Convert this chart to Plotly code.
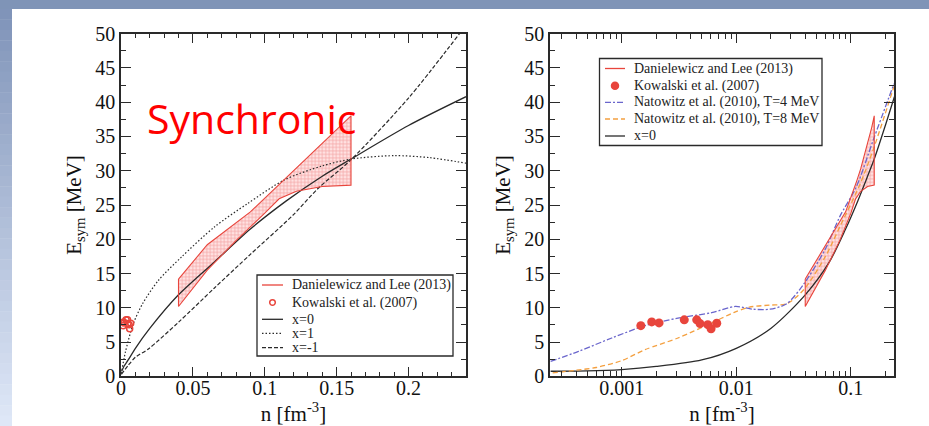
import math
import plotly.graph_objects as go

# ---- Danielewicz & Lee (2013) constraint band: upper and lower edges ----
band_n_upper = [0.04, 0.06, 0.09, 0.113, 0.122, 0.152, 0.16]
band_e_upper = [14.2, 19.2, 24.0, 28.6, 30.3, 36.3, 38.0]
band_n_lower = [0.04, 0.06, 0.08, 0.10, 0.11, 0.122, 0.14, 0.16]
band_e_lower = [10.2, 15.5, 19.8, 23.8, 25.9, 27.0, 27.7, 27.9]

# ---- Kowalski et al. (2007) data points ----
kow_n = [0.00147, 0.00183, 0.00212, 0.00352, 0.00452, 0.00483, 0.00564, 0.00603, 0.00676]
kow_e = [7.4, 7.95, 7.8, 8.25, 8.25, 7.7, 7.55, 6.95, 7.75]

# ---- Esym(n) parametrisations, x = 0, 1, -1 ----
x0_n = [0.00024, 0.0005, 0.001, 0.002, 0.005, 0.01, 0.02, 0.04, 0.065, 0.09, 0.115, 0.14, 0.16, 0.2, 0.24]
x0_e = [0.75, 0.8, 1.0, 1.45, 2.4, 4.1, 7.0, 11.9, 16.7, 21.5, 25.6, 29.2, 31.7, 36.6, 40.8]
x1_n = [0.00024, 0.003, 0.0086, 0.015, 0.026, 0.042, 0.065, 0.088, 0.114, 0.14, 0.16, 0.19, 0.215, 0.24]
x1_e = [0.4, 3.5, 7.7, 10.6, 14.0, 17.4, 21.8, 25.2, 28.7, 30.7, 31.7, 32.2, 31.9, 31.1]
xm1_n = [0.00024, 0.005, 0.01, 0.019, 0.04, 0.065, 0.09, 0.12, 0.137, 0.16, 0.2, 0.2355]
xm1_e = [0.3, 1.6, 2.8, 4.0, 7.9, 12.9, 17.8, 23.6, 27.4, 31.6, 40.6, 50.0]

# ---- Natowitz et al. (2010) ----
nat4_n = [0.00024, 0.00042, 0.00082, 0.0016, 0.0031, 0.0061, 0.0098, 0.014, 0.0197, 0.0276, 0.0386, 0.06, 0.08, 0.112, 0.157, 0.238]
nat4_e = [2.2, 3.65, 5.6, 7.4, 8.5, 9.3, 10.2, 9.8, 9.8, 10.6, 13.4, 18.6, 23.3, 27.7, 34.5, 42.7]
nat8_n = [0.00025, 0.0004, 0.0006, 0.001, 0.0016, 0.0031, 0.0061, 0.0095, 0.013, 0.0197, 0.0276, 0.0386, 0.06, 0.08, 0.12, 0.157, 0.238]
nat8_e = [0.5, 0.9, 1.3, 2.3, 3.9, 5.6, 7.8, 9.3, 10.1, 10.4, 10.6, 12.6, 17.5, 21.8, 28.0, 33.1, 42.3]

log_ticks = [0.001, 0.01, 0.1]
log_tick_text = ["0.001", "0.01", "0.1"]

NAME_DL = "Danielewicz and Lee (2013)"
NAME_KOW = "Kowalski et al. (2007)"
NAME_N4 = "Natowitz et al. (2010), T=4 MeV"
NAME_N8 = "Natowitz et al. (2010), T=8 MeV"
NAME_X0, NAME_X1, NAME_XM1 = "x=0", "x=1", "x=-1"

W, H = 929, 426
RED = "#e8453c"
DARK = "#2a2a2a"
BLUE = "#6a66cc"
ORANGE = "#f4a040"
SERIF = "Liberation Serif, Times New Roman, serif"

STYLE = {
    NAME_DL: dict(kind="line", color=RED, dash="solid"),
    NAME_KOW: dict(kind="marker", color=RED),
    NAME_N4: dict(kind="line", color=BLUE, dash="6px,2px,2px,2px"),
    NAME_N8: dict(kind="line", color=ORANGE, dash="5px,3px"),
    NAME_X0: dict(kind="line", color=DARK, dash="solid"),
    NAME_X1: dict(kind="line", color=DARK, dash="1.5px,2px"),
    NAME_XM1: dict(kind="line", color=DARK, dash="4px,2px"),
}

band_poly_n = band_n_upper + band_n_lower[::-1] + band_n_upper[:1]
band_poly_e = band_e_upper + band_e_lower[::-1] + band_e_upper[:1]

fig = go.Figure()


def curve(xa, ya, xs, ys, name, width=1.3):
    st = STYLE[name]
    fig.add_trace(go.Scatter(
        x=xs, y=ys, xaxis=xa, yaxis=ya, mode="lines", name=name,
        line=dict(color=st["color"], width=width, dash=st["dash"],
                  shape="spline", smoothing=0.8)))


def add_panel(xa, ya, right):
    # stippled interior of the constraint band
    fig.add_trace(go.Scatter(
        x=band_poly_n, y=band_poly_e, xaxis=xa, yaxis=ya, mode="lines",
        fill="toself", fillcolor="rgba(255,222,222,1)",
        fillpattern=dict(shape="+", fgcolor="rgba(232,90,90,0.85)",
                         bgcolor="rgba(255,226,226,1)", size=3.5, solidity=0.4),
        line=dict(width=0), hoverinfo="skip"))
    if right:
        curve(xa, ya, x0_n, x0_e, NAME_X0)
        curve(xa, ya, nat8_n, nat8_e, NAME_N8)
        curve(xa, ya, nat4_n, nat4_e, NAME_N4)
        fig.add_trace(go.Scatter(
            x=kow_n, y=kow_e, xaxis=xa, yaxis=ya, mode="markers", name=NAME_KOW,
            marker=dict(color=RED, size=9)))
    else:
        curve(xa, ya, x1_n, x1_e, NAME_X1, 1.2)
        curve(xa, ya, xm1_n, xm1_e, NAME_XM1, 1.2)
        curve(xa, ya, x0_n, x0_e, NAME_X0)
        fig.add_trace(go.Scatter(
            x=kow_n, y=kow_e, xaxis=xa, yaxis=ya, mode="markers", name=NAME_KOW,
            marker=dict(color=RED, size=6, symbol="circle-open", line=dict(width=1.5))))
    # band outline
    fig.add_trace(go.Scatter(
        x=band_poly_n, y=band_poly_e, xaxis=xa, yaxis=ya, mode="lines",
        line=dict(color=RED, width=1.1), name=NAME_DL))


add_panel("x", "y", False)
add_panel("x2", "y2", True)

ydom = [1 - 376.4 / H, 1 - 33.6 / H]

axis_style = dict(
    showline=True, linecolor=DARK, linewidth=1.5, mirror="allticks",
    ticks="inside", ticklen=10, tickwidth=1.3, tickcolor=DARK,
    showgrid=False, zeroline=False, automargin=False,
    tickfont=dict(family=SERIF, size=20, color="#111"),
)
title_font = dict(family=SERIF, size=21, color="#111")
minor_lin = dict(ticks="inside", ticklen=5, tickwidth=1.2, tickcolor=DARK)

fig.update_layout(
    width=W, height=H,
    margin=dict(l=0, r=0, t=0, b=0),
    paper_bgcolor="white", plot_bgcolor="white",
    showlegend=False,
    xaxis=dict(domain=[121 / W, 466 / W], range=[0, 0.24], dtick=0.05, tick0=0,
               minor=dict(dtick=0.01, **minor_lin), ticklabelstandoff=-7,
               title=dict(text="n [fm<sup>-3</sup>]", font=title_font, standoff=2),
               **axis_style),
    yaxis=dict(domain=ydom, range=[0, 50], dtick=5, tick0=0,
               minor=dict(dtick=2.5, **minor_lin),
               title=dict(text="E<sub>sym</sub> [MeV]", font=title_font, standoff=8),
               **axis_style),
    xaxis2=dict(domain=[550 / W, 894 / W], type="log",
                range=[math.log10(2.37e-4), math.log10(0.238)],
                tickvals=log_ticks, ticktext=log_tick_text, ticklabelstandoff=-7,
                minor=dict(tickvals=[m * 10 ** e for e in range(-4, 0) for m in range(2, 10)],
                           ticks="inside", ticklen=6, tickwidth=1.2, tickcolor=DARK),
                title=dict(text="n [fm<sup>-3</sup>]", font=title_font, standoff=2),
                anchor="y2", **axis_style),
    yaxis2=dict(domain=ydom, range=[0, 50], dtick=5, tick0=0,
                minor=dict(dtick=2.5, **minor_lin),
                title=dict(text="E<sub>sym</sub> [MeV]", font=title_font, standoff=8),
                anchor="x2", **axis_style),
)

# slide frame: blue bar along the top, graded strip down the left edge
shapes = [dict(type="rect", xref="paper", yref="paper", x0=0, x1=1,
               y0=1 - 9 / H, y1=1, fillcolor="#7f94b7", line=dict(width=0), layer="below")]
steps = 40
top_rgb, bot_rgb = (128, 148, 185), (222, 231, 247)
for i in range(steps):
    t = i / (steps - 1)
    c = tuple(round(a + (b - a) * t) for a, b in zip(top_rgb, bot_rgb))
    y_hi = 1 - 9 / H - i * (1 - 9 / H) / steps
    y_lo = 1 - 9 / H - (i + 1) * (1 - 9 / H) / steps
    shapes.append(dict(type="rect", xref="paper", yref="paper", x0=0, x1=12 / W,
                       y0=y_lo - 0.001, y1=y_hi, fillcolor="rgb(%d,%d,%d)" % c,
                       line=dict(width=0), layer="below"))

annotations = []


def legend_box(names, left, top, right, bottom, rows, sym_x0, sym_x1, text_x, fill_marker):
    """Framed key: short line samples or a dot, then the series name."""
    px = lambda v: v / W
    py = lambda v: 1 - v / H
    shapes.append(dict(type="rect", xref="paper", yref="paper",
                       x0=px(left), x1=px(right), y0=py(bottom), y1=py(top),
                       fillcolor="white", line=dict(color=DARK, width=1.3)))
    for name, yc in zip(names, rows):
        st = STYLE[name]
        if st["kind"] == "line":
            shapes.append(dict(type="line", xref="paper", yref="paper",
                               x0=px(sym_x0), x1=px(sym_x1), y0=py(yc), y1=py(yc),
                               line=dict(color=st["color"], width=1.3, dash=st["dash"])))
        else:
            xc, r = (sym_x0 + sym_x1) / 2, (3.5 if fill_marker else 2.8)
            shapes.append(dict(type="circle", xref="paper", yref="paper",
                               x0=px(xc - r), x1=px(xc + r), y0=py(yc + r), y1=py(yc - r),
                               fillcolor=st["color"] if fill_marker else "white",
                               line=dict(color=st["color"], width=1.5)))
        annotations.append(dict(text=name, xref="paper", yref="paper", x=px(text_x), y=py(yc),
                                xanchor="left", yanchor="middle", showarrow=False,
                                font=dict(family=SERIF, size=14, color="#222")))


legend_box([NAME_DL, NAME_KOW, NAME_X0, NAME_X1, NAME_XM1],
           257, 275, 453, 356, [285, 302.5, 319.3, 333.3, 347.7],
           262, 283, 290, False)
legend_box([NAME_DL, NAME_KOW, NAME_N4, NAME_N8, NAME_X0],
           599.5, 58.5, 822, 145.5, [68.5, 85.7, 102.3, 119, 136],
           605, 625, 632, True)

annotations.append(dict(text="Synchronic", xref="paper", yref="paper",
                        x=252 / W, y=1 - 118 / H, xanchor="center", yanchor="middle",
                        showarrow=False, font=dict(family="Open Sans", size=41, color="#ff0000")))

fig.update_layout(shapes=shapes, annotations=annotations)

fig.write_html("out.html")
